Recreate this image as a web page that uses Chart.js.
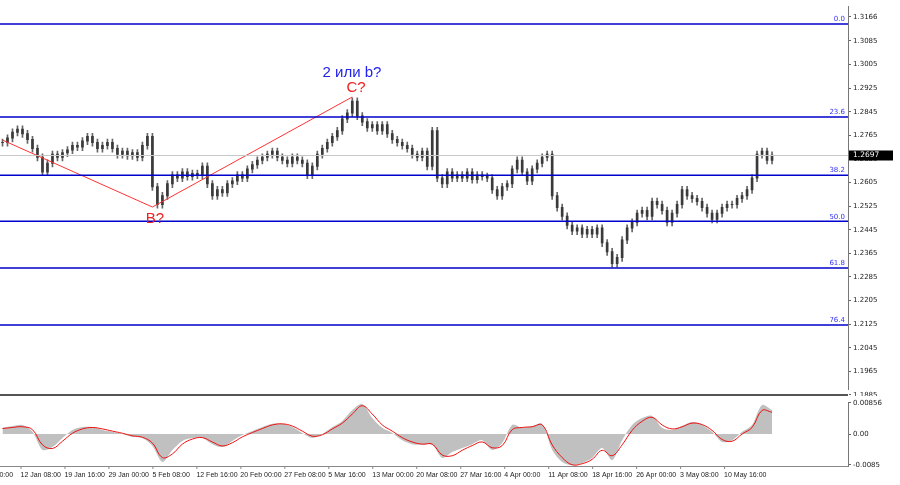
<!DOCTYPE html>
<html><head><meta charset="utf-8">
<script src="https://cdn.jsdelivr.net/npm/chart.js@4"></script>
<style>body{margin:0;background:#fff;width:900px;height:485px;overflow:hidden}canvas{position:absolute;left:0}#c1{top:0}#c2{top:396px}</style>
</head><body>
<canvas id="c1" width="900" height="396"></canvas>
<canvas id="c2" width="900" height="89"></canvas>
<script>
const closes=[1.2740,1.2755,1.2775,1.2785,1.2770,1.2750,1.2720,1.2690,1.2640,1.2670,1.2700,
1.2690,1.2705,1.2715,1.2730,1.2725,1.2745,1.2760,1.2740,1.2720,1.2730,
1.2740,1.2720,1.2700,1.2710,1.2695,1.2705,1.2690,1.2730,1.2760,1.2590,
1.2530,1.2560,1.2600,1.2630,1.2620,1.2640,1.2625,1.2635,1.2630,1.2660,
1.2600,1.2560,1.2580,1.2570,1.2600,1.2610,1.2630,1.2620,1.2650,1.2665,
1.2680,1.2690,1.2700,1.2710,1.2690,1.2680,1.2670,1.2690,1.2680,1.2670,
1.2630,1.2660,1.2700,1.2720,1.2740,1.2760,1.2780,1.2820,1.2840,1.2880,
1.2830,1.2810,1.2790,1.2800,1.2780,1.2800,1.2770,1.2750,1.2740,1.2730,
1.2720,1.2700,1.2690,1.2710,1.2660,1.2780,1.2620,1.2600,1.2640,1.2620,
1.2630,1.2620,1.2640,1.2615,1.2630,1.2625,1.2620,1.2580,1.2560,1.2590,
1.2600,1.2650,1.2680,1.2640,1.2610,1.2650,1.2670,1.2690,1.2700,1.2560,
1.2520,1.2490,1.2460,1.2440,1.2450,1.2430,1.2445,1.2430,1.2450,1.2400,
1.2370,1.2330,1.2350,1.2410,1.2450,1.2470,1.2500,1.2510,1.2490,1.2540,
1.2530,1.2510,1.2470,1.2500,1.2530,1.2580,1.2560,1.2550,1.2540,1.2520,
1.2500,1.2480,1.2500,1.2520,1.2530,1.2530,1.2550,1.2560,1.2580,1.2620,
1.2700,1.2710,1.2680,1.2697];
const priceTicks=[1.3166,1.3085,1.3005,1.2925,1.2845,1.2765,1.2685,1.2605,1.2525,1.2445,1.2365,1.2285,1.2205,1.2125,1.2045,1.1965,1.1885];
const fibLevels=[1.3142,1.2827,1.2630,1.2474,1.2315,1.2122];
const fibNames=["0.0","23.6","38.2","50.0","61.8","76.4"];
const waveX=[0,30,70];
const waveY=[1.2749,1.2522,1.2895];
const lastPrice=1.2697;
const macdHist=[0.0017,0.0022,0.0025,0.0006,-0.0044,-0.0036,-0.0011,0.0011,0.0019,0.0019,0.0011,0.0006,0,-0.0008,-0.0011,-0.0033,-0.0077,-0.0044,-0.0019,-0.0011,-0.0011,-0.0028,-0.0036,-0.0019,-0.0003,0.0008,0.0019,0.0028,0.0028,0.0019,0.0003,-0.0011,0,0.0019,0.0036,0.0066,0.0083,0.0044,0.0017,0.0003,-0.0017,-0.0028,-0.0030,-0.0030,-0.0066,-0.0050,-0.0039,-0.0028,-0.0017,-0.0044,-0.0025,0.0025,0.0017,0.0022,0.0028,-0.0044,-0.0077,-0.0086,-0.0080,-0.0066,-0.0039,-0.0072,-0.0017,0.0025,0.0044,0.0050,0.0017,0.0011,0.0022,0.0033,0.0025,0.0006,-0.0022,-0.0017,0.0006,0.0025,0.0080,0.0066];
const macdSignal=[0.0015,0.0018,0.0020,0.0012,-0.0030,-0.0040,-0.0020,0.0002,0.0014,0.0018,0.0014,0.0008,0.0002,-0.0005,-0.0009,-0.0025,-0.0065,-0.0055,-0.0028,-0.0014,-0.0010,-0.0022,-0.0033,-0.0024,-0.0008,0.0004,0.0015,0.0025,0.0028,0.0022,0.0008,-0.0006,-0.0002,0.0014,0.0030,0.0055,0.0078,0.0055,0.0025,0.0008,-0.0010,-0.0022,-0.0028,-0.0028,-0.0058,-0.0060,-0.0045,-0.0032,-0.0022,-0.0038,-0.0032,0.0012,0.0018,0.0020,0.0025,-0.0030,-0.0065,-0.0085,-0.0082,-0.0070,-0.0045,-0.0060,-0.0030,0.0010,0.0035,0.0046,0.0025,0.0014,0.0020,0.0030,0.0026,0.0010,-0.0015,-0.0020,0.0000,0.0018,0.0065,0.0060];
const macdTicks=[0.00856,0,-0.0085];
const dateLabels=["5 Jan 00:00","12 Jan 08:00","19 Jan 16:00","29 Jan 00:00","5 Feb 08:00","12 Feb 16:00","20 Feb 00:00","27 Feb 08:00","5 Mar 16:00","13 Mar 00:00","20 Mar 08:00","27 Mar 16:00","4 Apr 00:00","11 Apr 08:00","18 Apr 16:00","26 Apr 00:00","3 May 08:00","10 May 16:00"];
const dateAt=[-5.2,3.6,12.4,21.2,30,38.8,47.6,56.4,65.2,74,82.8,91.6,100.4,109.2,118,126.8,135.6,144.4];

const XMIN=-0.4,XMAX=169.2;
const wick=[],body=[];
closes.forEach((c,i)=>{const o=i?closes[i-1]:c;const hi=Math.max(o,c)+0.0012,lo=Math.min(o,c)-0.0012;
 wick.push({x:i,y:[lo,hi]});body.push({x:i,y:[Math.min(o,c),Math.max(o,c)+0.00012]});});
const F="DejaVu Sans";
function yAxis(min,max,ticks,fmt){return{position:'right',min,max,
 afterBuildTicks:s=>{s.ticks=ticks.map(v=>({value:v}))},
 afterFit:s=>{s.width=52},
 grid:{drawOnChartArea:false,tickLength:3,color:'#666'},border:{color:'#777'},
 ticks:{font:{family:F,size:7},color:'#222',padding:2,autoSkip:false,callback:fmt}}}
// calibrate: value v1 at pixel p1, v2 at pixel p2 (canvas coords)
function calibrate(ch,v1,p1,v2,p2){const a=ch.chartArea;const k=(p2-p1)/(v1-v2);
 ch.options.scales.y.max=v1+(p1-a.top)/k;ch.options.scales.y.min=v1-(a.bottom-p1)/k;ch.update();}

const deco={id:'deco',afterDatasetsDraw(ch){const {ctx,chartArea:a,scales:{y}}=ch;ctx.save();
 let py=Math.round(y.getPixelForValue(lastPrice))+0.5;ctx.strokeStyle='#c8c8c8';ctx.lineWidth=1;ctx.beginPath();ctx.moveTo(0,py);ctx.lineTo(a.right,py);ctx.stroke();
 fibLevels.forEach((v,i)=>{const p=y.getPixelForValue(v);ctx.strokeStyle='#0000cc';ctx.lineWidth=1.5;ctx.beginPath();ctx.moveTo(0,p);ctx.lineTo(a.right,p);ctx.stroke();
  ctx.fillStyle='#3333ff';ctx.font='7px '+F;ctx.textAlign='right';ctx.textBaseline='bottom';ctx.fillText(fibNames[i],a.right-3,p-1);});
 ctx.font='15px Arial, "Liberation Sans"';ctx.textAlign='center';ctx.textBaseline='middle';
 ctx.fillStyle='#2222ee';ctx.fillText('2 или b?',352,73);
 ctx.fillStyle='#ee2222';ctx.fillText('C?',356,88);ctx.fillText('B?',155,219);
 ctx.fillStyle='#000';ctx.fillRect(a.right+1,py-5,44,10);ctx.fillStyle='#fff';ctx.font='7.5px '+F;ctx.textAlign='left';ctx.fillText(lastPrice.toFixed(4),a.right+5,py);
 ctx.strokeStyle='#555';ctx.lineWidth=2;ctx.beginPath();ctx.moveTo(0,395);ctx.lineTo(a.right,395);ctx.stroke();
 ctx.restore();}};

const c1=new Chart(document.getElementById('c1'),{type:'bar',data:{datasets:[
 {type:'line',data:waveX.map((x,i)=>({x,y:waveY[i]})),borderColor:'#ff3333',borderWidth:1,pointRadius:0,order:0},
 {data:wick,backgroundColor:'#666',barThickness:1,grouped:false,order:2},
 {data:body,backgroundColor:'#3a3a3a',barThickness:2,grouped:false,order:1}]},
 options:{responsive:false,animation:false,devicePixelRatio:1,layout:{padding:0},
 plugins:{legend:{display:false},tooltip:{enabled:false}},
 scales:{x:{type:'linear',min:XMIN,max:XMAX,display:false,offset:false},
 y:yAxis(1.1882,1.3224,priceTicks,v=>v.toFixed(4))}},plugins:[deco]});
calibrate(c1,1.3166,17,1.1885,395);

const deco2={id:'deco2',afterDraw(ch){const {ctx,chartArea:a,scales:{x}}=ch;ctx.save();
 ctx.strokeStyle='#888';ctx.lineWidth=1;ctx.beginPath();ctx.moveTo(0,a.bottom+0.5);ctx.lineTo(a.right,a.bottom+0.5);ctx.stroke();
 ctx.font='7px "Liberation Sans"';ctx.fillStyle='#222';ctx.textBaseline='top';ctx.textAlign='left';
 dateLabels.forEach((l,i)=>{const p=x.getPixelForValue(dateAt[i]);ctx.beginPath();ctx.moveTo(p+0.5,a.bottom);ctx.lineTo(p+0.5,a.bottom+3);ctx.stroke();ctx.fillText(l,p,a.bottom+6);});
 ctx.restore();}};
const c2=new Chart(document.getElementById('c2'),{type:'line',data:{datasets:[
 {data:macdSignal.map((v,i)=>({x:i*2,y:v})),borderColor:'#ee1111',borderWidth:1,pointRadius:0,tension:0.4,fill:false},
 {data:macdHist.map((v,i)=>({x:i*2,y:v})),borderWidth:0,backgroundColor:'#c0c0c0',fill:'origin',pointRadius:0,tension:0.3}]},
 options:{responsive:false,animation:false,devicePixelRatio:1,layout:{padding:{top:2,bottom:19}},
 plugins:{legend:{display:false},tooltip:{enabled:false}},
 scales:{x:{type:'linear',min:XMIN,max:XMAX,display:false},
 y:yAxis(-0.0088,0.0099,macdTicks,v=>v===0?'0.00':String(v))}},plugins:[deco2]});
calibrate(c2,0.00856,7,0,38);
</script></body></html>
